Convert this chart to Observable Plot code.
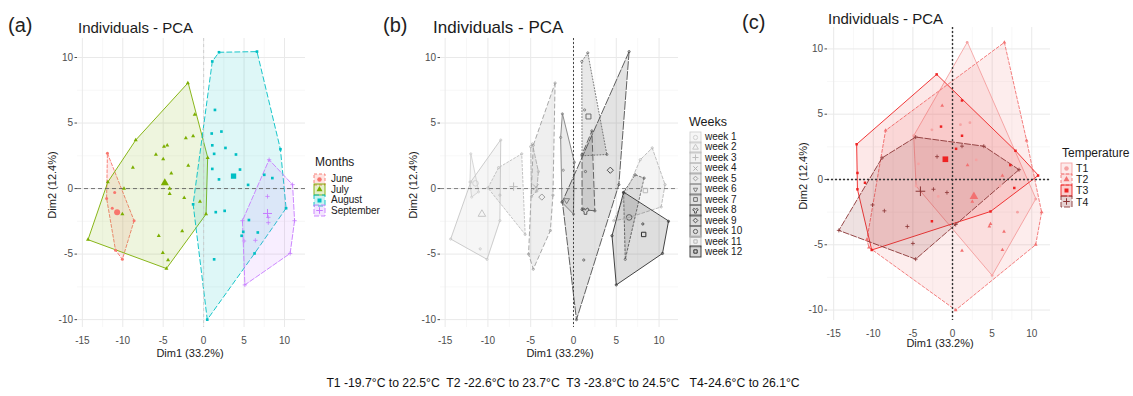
<!DOCTYPE html>
<html><head><meta charset="utf-8">
<script src="https://cdn.jsdelivr.net/npm/d3@7"></script>
<script src="https://cdn.jsdelivr.net/npm/@observablehq/plot@0.6"></script>
<style>
body{margin:0;background:#fff;}
#root{position:relative;width:1133px;height:396px;overflow:hidden;font-family:"Liberation Sans",Arial,sans-serif;color:#1a1a1a;background:#fff;}
.t{position:absolute;white-space:pre;line-height:1;transform:translateY(-50%);}
.rot{position:absolute;white-space:pre;line-height:1;transform:translate(-50%,-50%) rotate(-90deg);}
.ctr{position:absolute;white-space:pre;line-height:1;transform:translate(-50%,-50%);}
</style></head><body><div id="root"></div>
<script>
// ---------------- tick values ----------------
const majorX = [-15, -10, -5, 0, 5, 10];
const minorX = [-12.5, -7.5, -2.5, 2.5, 7.5];
const majorY = [-10, -5, 0, 5, 10];
const minorY = [-7.5, -2.5, 2.5, 7.5];

// ---------------- panel (a): months ----------------
const monthNames = ["June", "July", "August", "September"];
const june = [[-11.9,2.7],[-12.0,-0.75],[-11.0,-0.3],[-10.9,-4.7],[-10.05,-5.4],[-8.6,-2.45],[-11.3,-1.5]];
const july = [[-1.95,8.05],[-8.4,3.7],[-11.85,0.5],[-14.3,-3.9],[-4.6,-6.1],[0.3,-1.95],[0.5,2.35],[-1.1,5.65],[-2.2,3.85],[-1.3,4.0],[-4.9,3.2],[-4.5,3.3],[-5.9,2.6],[-5.0,2.25],[-8.75,1.6],[-1.9,1.75],[-4.0,1.17],[-4.2,0.0],[-4.2,-0.4],[-2.4,-0.7],[-9.85,0.0],[-10.05,-1.95],[-0.45,-1.0],[-5.55,-3.6],[-2.65,-3.25],[-5.05,-4.9],[-4.4,-5.45]];
const august = [[1.07,9.7],[1.9,10.4],[6.6,10.45],[9.5,3.0],[10.2,-1.5],[0.45,-10],[-1.3,-1.2],[1.4,6.0],[1.0,4.2],[2.2,4.35],[1.07,3.3],[2.7,3.1],[1.3,2.65],[4.0,2.6],[4.5,1.45],[1.07,1.5],[1.9,0.7],[5.5,0.28],[1.5,-1.8],[2.6,-1.7],[5.6,-2.4],[4.9,-3.3],[4.7,-3.6],[6.7,-3.35],[6.3,-4.95],[1.3,-5.4],[7.5,1.05],[8.5,0.8]];
const september = [[8.1,2.2],[11.0,0.3],[11.25,-2.45],[10.7,-4.95],[5.1,-7.35],[4.8,-2.45],[7.9,-0.6],[8.0,-2.2],[8.0,-2.6],[6.4,-3.95],[5.0,-4.0]];
const monthCentroids = [[-10.7,-1.8],[-4.8,0.43],[3.7,0.95],[7.9,-1.9]];
const monthColors = ["#F8766D", "#7CAE00", "#00BFC4", "#C77CFF"];

// ---------------- panel (b): weeks ----------------
const weekNames = ["week 1","week 2","week 3","week 4","week 5","week 6","week 7","week 8","week 9","week 10","week 11","week 12"];
const w1 = [[-12.0,2.65],[-12.1,0.5],[-11.9,-0.65],[-11.1,-0.25]];
const w2 = [[-12.0,0.5],[-8.5,3.7],[-8.6,-2.45],[-10.1,-5.4],[-14.35,-3.85],[-10.9,-4.6]];
const w3 = [[-10.0,0.05],[-8.75,1.6],[-6.05,2.65],[-5.65,-3.5],[-8.6,-0.5]];
const w4 = [[-5.0,3.2],[-4.8,3.4],[-4.1,1.3],[-4.3,-0.2],[-4.9,-0.6]];
const w5 = [[-2.15,8.05],[-4.7,3.3],[-5.25,-5.0],[-4.7,-6.15],[-2.7,-3.2],[-2.4,-0.5]];
const w6 = [[-1.3,5.7],[0.1,2.0],[0.0,-1.95],[-1.35,-1.05],[-1.2,1.4],[-1.5,3.9]];
const w7 = [[0.97,9.7],[1.67,10.35],[3.9,2.6],[1.0,2.5],[1.3,6.0]];
const w8 = [[1.0,2.6],[2.15,4.4],[2.5,-1.7],[1.0,-1.6],[1.4,1.3]];
const w9 = [[6.5,10.45],[-1.3,-1.0],[0.35,-10],[5.3,0.3],[1.2,-5.45]];
const w10 = [[7.2,1.05],[8.25,0.8],[6.05,-5.4],[5.85,-0.3]];
const w11 = [[7.8,2.2],[9.2,3.1],[10.7,0.3],[10.25,-1.4],[6.05,-2.3],[4.7,-2.45]];
const w12 = [[5.85,-0.3],[11.1,-2.5],[10.4,-4.95],[5.0,-7.35],[4.5,-3.6],[8.1,-2.7]];
const weekCentroids = [[-11.45,0.4],[-10.7,-1.95],[-7.0,0.15],[-4.4,0.1],[-3.7,-0.65],[-0.8,-0.9],[1.75,5.5],[1.4,-1.7],[4.3,1.4],[6.5,-2.2],[8.4,-0.15],[8.2,-3.5]];
const weekGrays = ["#d2d2d2","#c6c6c6","#bdbdbd","#b0b0b0","#9e9e9e","#808080","#6e6e6e","#5a5a5a","#505050","#606060","#b8b8b8","#303030"];
const weekDash = [null,null,"2,2","4,2","4,3",null,"1,2","6,3","8,2","2,2","3,2",null];
const weekSymbols = ["circle","triangle","plus","times","diamond2","triangle2","square","wye","diamond2","circle","square2","square2"];

// ---------------- panel (c): temperature ----------------
const tempNames = ["T1","T2","T3","T4"];
const t1 = [[1.85,10.5],[-4.9,3.35],[-4.6,-0.5],[5.0,-7.35],[10.5,-1.5],[1.0,4.2],[2.2,4.35],[-2.6,3.8],[-4.3,1.2],[-1.8,-1.3],[8.2,-2.5],[3.0,1.5],[6.0,-0.5]];
const t2 = [[-8.45,3.75],[6.55,10.5],[9.35,3.0],[11.25,-2.5],[10.5,-5.0],[0.4,-10.0],[-10.55,-5.2],[-10.8,-4.6],[2.5,-1.7],[4.8,-3.4],[4.65,-3.6],[6.5,-4.0],[6.3,-5.4],[1.9,1.1],[6.3,0.3],[-1.3,5.65],[1.2,-5.45]];
const t3 = [[-12.1,2.7],[-2.0,8.05],[7.95,2.2],[10.8,0.3],[4.8,-2.45],[-10.2,-5.4],[-12.0,-0.75],[-1.45,4.05],[1.2,6.05],[0.45,2.35],[1.2,3.35],[-11.05,-0.25],[-12.0,0.5],[7.8,-0.65],[7.3,1.1],[-2.6,-3.2]];
const t4 = [[-4.65,3.25],[3.95,2.55],[8.4,0.75],[0.4,-3.45],[-4.65,-6.1],[-14.35,-3.9],[-8.9,1.65],[-1.95,1.75],[-2.4,-0.75],[-0.7,-1.0],[-5.7,-3.6],[-8.6,-2.4],[-10.1,-1.95],[-5.0,-4.9],[1.2,2.55]];
const tempCentroids = [[1.5,0.5],[2.7,-1.3],[-0.9,1.55],[-4.05,-0.9]];
const tempColors = ["#f5a3a3","#f27171","#ee2222","#8b3535"];
const tempFillOpacity = [0.18, 0.13, 0.1, 0.15];
const tempDash = [null,"3,2",null,"6,2"];

const caption = "T1 -19.7°C to 22.5°C  T2 -22.6°C to 23.7°C  T3 -23.8°C to 24.5°C   T4-24.6°C to 26.1°C";

// ---------------- helpers ----------------
const root = document.getElementById("root");
const fmt = d => (d < 0 ? "-" + Math.abs(d) : String(d));
const X = d => d[0], Y = d => d[1];

function panel(cfg) {
  const marks = [
    Plot.ruleX(minorX, {stroke: "#f1f1f1", strokeWidth: 0.6}),
    Plot.ruleY(minorY, {stroke: "#f1f1f1", strokeWidth: 0.6}),
    Plot.ruleX(majorX, {stroke: "#e9e9e9", strokeWidth: 1}),
    Plot.ruleY(majorY, {stroke: "#e9e9e9", strokeWidth: 1})
  ];
  cfg.groups.forEach(g => {
    const hull = d3.polygonHull(g.pts);
    marks.push(Plot.line(hull, {x: X, y: Y, curve: "linear-closed", fill: g.color, fillOpacity: g.fo,
      stroke: g.stroke || g.color, strokeWidth: g.sw || 0.9, strokeDasharray: g.dash || undefined}));
  });
  marks.push(Plot.ruleY([0], cfg.hRef));
  marks.push(Plot.ruleX([0], cfg.vRef));
  cfg.groups.forEach(g => {
    marks.push(Plot.dot(g.pts, {x: X, y: Y, r: g.r || 1.4, symbol: g.ptSymbol || "circle",
      fill: g.ptHollow ? "none" : (g.stroke || g.color), stroke: g.ptHollow ? (g.stroke || g.color) : "none", strokeWidth: 0.8}));
    if (g.centroid) {
      const hollow = ["plus","times","diamond2","square2","triangle2","wye"].includes(g.symbol) || g.hollow;
      marks.push(Plot.dot([g.centroid], {x: X, y: Y, r: g.cr || 3, symbol: g.symbol, rotate: g.rotate || 0,
        fill: hollow ? "none" : (g.stroke || g.color), stroke: hollow ? (g.stroke || g.color) : "none", strokeWidth: 1}));
    }
  });
  const svg = Plot.plot({
    width: cfg.width, height: 396,
    marginLeft: cfg.mL, marginRight: cfg.mR, marginTop: cfg.mT, marginBottom: cfg.mB,
    style: {background: "transparent", fontSize: "10px", fontFamily: "Liberation Sans, Arial, sans-serif", color: "#4d4d4d", overflow: "visible"},
    x: {domain: cfg.xDomain, ticks: majorX, tickFormat: fmt, tickSize: 0, tickPadding: 9, label: null},
    y: {domain: cfg.yDomain, ticks: majorY, tickFormat: fmt, tickSize: 2.5, tickPadding: 2, label: null},
    marks
  });
  svg.style.position = "absolute";
  svg.style.left = cfg.left + "px";
  svg.style.top = "0px";
  root.appendChild(svg);
}

function text(str, left, cy, size, cls = "t", extra = {}) {
  const d = document.createElement("div");
  d.className = cls;
  d.textContent = str;
  d.style.left = left + "px";
  d.style.top = cy + "px";
  d.style.fontSize = size + "px";
  Object.assign(d.style, extra);
  root.appendChild(d);
}

function swatch(left, cy, o) {
  const s = d3.create("svg").attr("width", 13).attr("height", 13)
    .style("position", "absolute").style("left", left + "px").style("top", (cy - 6.5) + "px");
  s.append("rect").attr("x", 1).attr("y", 1).attr("width", 11).attr("height", 11)
    .attr("fill", o.color).attr("fill-opacity", o.fo).attr("stroke", o.stroke || o.color)
    .attr("stroke-width", 0.9).attr("stroke-dasharray", o.dash || null);
  const symMap = {circle: d3.symbolCircle, triangle: d3.symbolTriangle, square: d3.symbolSquare, plus: d3.symbolPlus,
    times: d3.symbolTimes, diamond2: d3.symbolDiamond2, triangle2: d3.symbolTriangle2, square2: d3.symbolSquare2, wye: d3.symbolWye};
  const hollow = ["plus","times","diamond2","square2","triangle2"].includes(o.symbol) || o.hollow;
  s.append("path").attr("d", d3.symbol(symMap[o.symbol], o.size || 22)())
    .attr("transform", `translate(6.5,6.5) rotate(${o.rotate || 0})`)
    .attr("fill", hollow ? "none" : (o.stroke || o.color)).attr("stroke", hollow ? (o.stroke || o.color) : "none").attr("stroke-width", 1);
  root.appendChild(s.node());
}

// ---------------- panel (a) ----------------
const monthPts = [june, july, august, september];
const monthDash = ["3,2", null, "5,3", "5,2"];
const monthSym = ["circle", "triangle", "square", "plus"];
panel({
  left: 0, width: 380, mL: 77, mR: 75, mT: 38, mB: 69,
  xDomain: [-15.6, 12.6], yDomain: [-10.6, 11.45],
  hRef: {stroke: "#555", strokeWidth: 0.8, strokeDasharray: "4,3"},
  vRef: {stroke: "#c8c8c8", strokeWidth: 0.8, strokeDasharray: "3,3"},
  groups: monthPts.map((pts, i) => ({pts, color: monthColors[i], fo: 0.13, dash: monthDash[i], symbol: monthSym[i],
    ptSymbol: monthSym[i], ptHollow: monthSym[i] === "plus", r: 1.5, centroid: monthCentroids[i], cr: 3}))
});

// ---------------- panel (b) ----------------
const weekPts = [w1, w2, w3, w4, w5, w6, w7, w8, w9, w10, w11, w12];
panel({
  left: 380, width: 375, mL: 60, mR: 77, mT: 38, mB: 69,
  xDomain: [-15.54, 12.27], yDomain: [-10.6, 11.45],
  hRef: {stroke: "#666", strokeWidth: 0.8, strokeDasharray: "4,3"},
  vRef: {stroke: "#444", strokeWidth: 1, strokeDasharray: "2,2"},
  groups: weekPts.map((pts, i) => ({pts, color: weekGrays[i], fo: 0.16, dash: weekDash[i], symbol: weekSymbols[i],
    rotate: i === 5 ? 180 : 0, ptSymbol: "circle", ptHollow: true, r: 1.1, centroid: weekCentroids[i], cr: 2.8, hollow: true}))
});

// ---------------- panel (c) ----------------
const tempPts = [t1, t2, t3, t4];
const tempSym = ["circle", "triangle", "square", "plus"];
panel({
  left: 755, width: 378, mL: 72, mR: 83, mT: 27, mB: 76,
  xDomain: [-15.78, 12.37], yDomain: [-10.8, 11.64],
  hRef: {stroke: "#333", strokeWidth: 1.4, strokeDasharray: "2,2"},
  vRef: {stroke: "#333", strokeWidth: 1.4, strokeDasharray: "2,2"},
  groups: tempPts.map((pts, i) => ({pts, color: tempColors[i], fo: tempFillOpacity[i], dash: tempDash[i], symbol: tempSym[i],
    ptSymbol: tempSym[i], ptHollow: tempSym[i] === "plus", r: 1.4, centroid: i === 0 ? null : tempCentroids[i], cr: 3.2}))
});

// ---------------- texts ----------------
text("(a)", 8, 25, 20, "t", {color: "#222"});
text("(b)", 383, 25, 20, "t", {color: "#222"});
text("(c)", 742, 22, 20, "t", {color: "#222"});
text("Individuals - PCA", 78, 27, 15);
text("Individuals - PCA", 433, 27, 17);
text("Individuals - PCA", 828, 18, 15);
text("Dim1 (33.2%)", 190, 353, 11, "ctr");
text("Dim1 (33.2%)", 560, 353, 11, "ctr");
text("Dim1 (33.2%)", 940, 343, 11, "ctr");
text("Dim2 (12.4%)", 52, 185, 11, "rot");
text("Dim2 (12.4%)", 413, 185, 11, "rot");
text("Dim2 (12.4%)", 803, 176, 11, "rot");

// legend (a)
text("Months", 315, 162, 12);
monthNames.forEach((n, i) => {
  const cy = 179 + i * 10.6;
  swatch(313, cy, {color: monthColors[i], fo: 0.2, symbol: monthSym[i], size: 16, dash: monthDash[i]});
  text(n, 331, cy, 10);
});
// legend (b)
text("Weeks", 689, 122, 12.5);
weekNames.forEach((n, i) => {
  const cy = 137 + i * 10.45;
  swatch(689, cy, {color: weekGrays[i], fo: 0.2, symbol: weekSymbols[i], size: 14, hollow: true, rotate: i === 5 ? 180 : 0});
  text(n, 705, cy, 10);
});
// legend (c)
text("Temperature", 1062, 153, 12);
tempNames.forEach((n, i) => {
  const cy = 168 + i * 11.2;
  swatch(1060, cy, {color: tempColors[i], fo: 0.22, symbol: tempSym[i], size: 16, dash: tempDash[i]});
  text(n, 1076, cy, 10.5);
});

text(caption, 563, 383, 12.2, "ctr", {color: "#111"});
</script></body></html>
